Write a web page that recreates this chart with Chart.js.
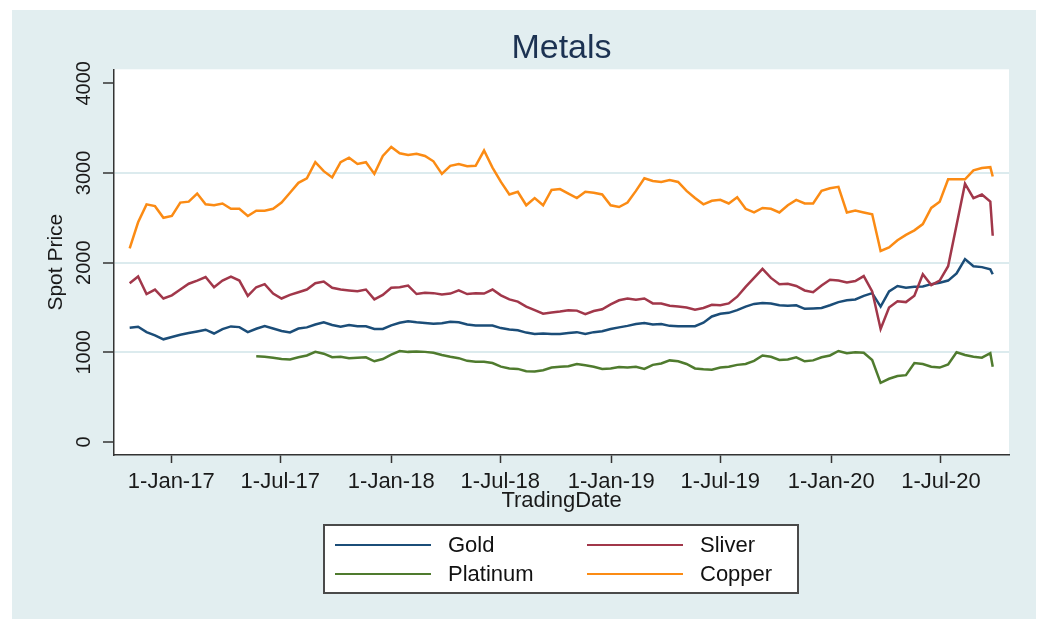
<!DOCTYPE html>
<html>
<head>
<meta charset="utf-8">
<title>Metals</title>
<script src="https://cdn.jsdelivr.net/npm/chart.js@4.4.1/dist/chart.umd.min.js"></script>
<style>
  html, body { margin: 0; padding: 0; background: #fff; }
  #wrap { width: 1041px; height: 619px; }
</style>
</head>
<body>
<div id="wrap"><canvas id="myChart" width="1041" height="619"></canvas></div>
<script>
// values, roughly every two weeks
const tradingDates = [
    '2016-10-24','2016-11-07','2016-11-21','2016-12-05','2016-12-19',
    '2017-01-02','2017-01-16','2017-01-30','2017-02-13','2017-02-27',
    '2017-03-13','2017-03-27','2017-04-10','2017-04-24','2017-05-08',
    '2017-05-22','2017-06-05','2017-06-19','2017-07-03','2017-07-17',
    '2017-07-31','2017-08-14','2017-08-28','2017-09-11','2017-09-25',
    '2017-10-09','2017-10-23','2017-11-06','2017-11-20','2017-12-04',
    '2017-12-18','2018-01-01','2018-01-15','2018-01-29','2018-02-12',
    '2018-02-26','2018-03-12','2018-03-26','2018-04-09','2018-04-23',
    '2018-05-07','2018-05-21','2018-06-04','2018-06-18','2018-07-02',
    '2018-07-16','2018-07-30','2018-08-13','2018-08-27','2018-09-10',
    '2018-09-24','2018-10-08','2018-10-22','2018-11-05','2018-11-19',
    '2018-12-03','2018-12-17','2018-12-31','2019-01-14','2019-01-28',
    '2019-02-11','2019-02-25','2019-03-11','2019-03-25','2019-04-08',
    '2019-04-22','2019-05-06','2019-05-20','2019-06-03','2019-06-17',
    '2019-07-01','2019-07-15','2019-07-29','2019-08-12','2019-08-26',
    '2019-09-09','2019-09-23','2019-10-07','2019-10-21','2019-11-04',
    '2019-11-18','2019-12-02','2019-12-16','2019-12-30','2020-01-13',
    '2020-01-27','2020-02-10','2020-02-24','2020-03-09','2020-03-23',
    '2020-04-06','2020-04-20','2020-05-04','2020-05-18','2020-06-01',
    '2020-06-15','2020-06-29','2020-07-13','2020-07-27','2020-08-10',
    '2020-08-24','2020-09-07','2020-09-21','2020-09-25'
];

const gold = [
    1275,1285,1226,1189,1145, 1170,1196,1215,1233,1252,
    1210,1259,1289,1281,1226, 1263,1292,1265,1237,1222,
    1265,1278,1310,1335,1305, 1285,1305,1290,1290,1260,
    1260,1300,1330,1345,1335, 1328,1320,1325,1340,1335,
    1310,1300,1300,1298,1270, 1255,1245,1220,1205,1210,
    1205,1205,1215,1225,1205, 1225,1235,1260,1278,1295,
    1315,1328,1310,1315,1295, 1292,1290,1292,1330,1400,
    1430,1440,1470,1510,1540, 1550,1545,1525,1520,1525,
    1485,1490,1495,1525,1560, 1580,1590,1630,1660,1510,
    1680,1740,1720,1730,1735, 1760,1775,1800,1880,2040,
    1960,1950,1925,1870
];

const sliver = [
    1770,1845,1650,1700,1600, 1635,1700,1765,1800,1840,
    1726,1800,1845,1800,1630, 1726,1760,1655,1600,1640,
    1670,1700,1770,1790,1720, 1700,1690,1680,1700,1590,
    1640,1720,1725,1745,1650, 1665,1660,1645,1655,1690,
    1650,1660,1655,1700,1635, 1590,1565,1510,1470,1430,
    1445,1455,1470,1465,1425, 1460,1480,1535,1580,1600,
    1585,1600,1545,1545,1520, 1510,1500,1475,1495,1530,
    1525,1545,1620,1730,1830, 1930,1830,1760,1765,1740,
    1690,1670,1745,1810,1800, 1780,1795,1850,1680,1260,
    1500,1570,1560,1630,1870, 1750,1800,1960,2420,2880,
    2720,2760,2680,2300
];

// platinum only starts in May 2017
const platinum = [
    null,null,null,null,null, null,null,null,null,null,
    null,null,null,null,null, 955,950,940,925,920,
    945,965,1005,985,945, 950,935,940,945,900,
    925,975,1015,1005,1010, 1005,995,970,950,935,
    905,895,895,880,840, 820,815,790,785,800,
    830,840,845,870,855, 840,815,820,835,830,
    840,815,860,875,910, 900,870,820,810,805,
    830,840,860,870,905, 965,950,915,920,945,
    900,910,945,965,1015, 990,1000,995,915,660,
    705,735,745,880,870, 840,830,865,1000,970,
    950,940,990,840
];

const copper = [
    2160,2450,2650,2630,2500, 2520,2670,2680,2770,2650,
    2640,2660,2600,2600,2520, 2580,2580,2600,2670,2780,
    2890,2940,3120,3020,2950, 3120,3170,3100,3120,2990,
    3190,3290,3220,3200,3215, 3190,3130,2990,3080,3100,
    3075,3080,3250,3060,2900, 2760,2790,2640,2720,2640,
    2810,2820,2770,2720,2790, 2780,2760,2640,2620,2670,
    2800,2940,2910,2900,2920, 2900,2800,2720,2650,2690,
    2700,2660,2730,2600,2560, 2610,2600,2560,2640,2700,
    2660,2660,2800,2830,2845, 2560,2580,2560,2540,2130,
    2170,2250,2310,2360,2430, 2610,2680,2930,2930,2930,
    3030,3055,3065,2960
];

const tickDates = ['2017-01-01','2017-07-01','2018-01-01','2018-07-01','2019-01-01','2019-07-01','2020-01-01','2020-07-01'];
const tickLabels = ['1-Jan-17','1-Jul-17','1-Jan-18','1-Jul-18','1-Jan-19','1-Jul-19','1-Jan-20','1-Jul-20'];
const yTicks = [0, 1000, 2000, 3000, 4000];

const FONT = "'Liberation Sans', Arial, sans-serif";

function toTime(s) {
    const p = s.split('-');
    return Date.UTC(+p[0], +p[1] - 1, +p[2]);
}

function toPoints(values) {
    const pts = [];
    values.forEach((v, i) => {
        if (v !== null) pts.push({ x: toTime(tradingDates[i]), y: v });
    });
    return pts;
}

const ctx = document.getElementById('myChart').getContext('2d');

const data = {
    datasets: [
        { label: 'Gold', data: toPoints(gold), borderColor: '#1b4d78', order: 3 },
        { label: 'Sliver', data: toPoints(sliver), borderColor: '#a1374a', order: 2 },
        { label: 'Platinum', data: toPoints(platinum), borderColor: '#4f7b2e', order: 1 },
        { label: 'Copper', data: toPoints(copper), borderColor: '#fb8b14', order: 0 }
    ]
};

// panel and plot region backgrounds
const backgroundPlugin = {
    id: 'panels',
    beforeDraw(chart) {
        const c = chart.ctx;
        const a = chart.chartArea;
        c.save();
        c.fillStyle = '#ffffff';
        c.fillRect(0, 0, chart.width, chart.height);
        c.fillStyle = '#e2eef0';
        c.fillRect(12, 10, 1024, 609);
        c.fillStyle = '#ffffff';
        c.fillRect(a.left, a.top, a.right - a.left, a.bottom - a.top);
        c.restore();
    }
};

// two-column boxed legend under the plot
const boxLegend = {
    id: 'boxLegend',
    afterDraw(chart) {
        const c = chart.ctx;
        c.save();
        c.fillStyle = '#ffffff';
        c.fillRect(324, 525, 474, 68);
        c.strokeStyle = '#4a4a4a';
        c.lineWidth = 2;
        c.strokeRect(324, 525, 474, 68);
        const slots = [[335, 545], [587, 545], [335, 574], [587, 574]];
        chart.data.datasets.forEach((ds, i) => {
            const [x, y] = slots[i];
            c.strokeStyle = ds.borderColor;
            c.lineWidth = 2;
            c.beginPath();
            c.moveTo(x, y);
            c.lineTo(x + 96, y);
            c.stroke();
            c.fillStyle = '#111111';
            c.font = '22px ' + FONT;
            c.textBaseline = 'middle';
            c.textAlign = 'left';
            c.fillText(ds.label, x + 113, y + 1);
        });
        c.restore();
    }
};

const config = {
    type: 'line',
    data: data,
    options: {
        responsive: false,
        animation: false,
        devicePixelRatio: 1,
        layout: { padding: { top: 0, left: 0, right: 32, bottom: 0 } },
        elements: {
            line: { borderWidth: 2.5, tension: 0 },
            point: { radius: 0 }
        },
        scales: {
            x: {
                type: 'linear',
                min: toTime('2016-09-28'),
                max: toTime('2020-10-22'),
                afterBuildTicks: (s) => { s.ticks = tickDates.map(d => ({ value: toTime(d) })); },
                afterFit: (s) => { s.height = 164; },
                ticks: {
                    autoSkip: false,
                    maxRotation: 0,
                    padding: 6,
                    color: '#1a1a1a',
                    font: { family: FONT, size: 22 },
                    callback: (value, index) => tickLabels[index]
                },
                grid: { drawOnChartArea: false, tickLength: 8, tickColor: '#333333', tickWidth: 1.5 },
                border: { color: '#333333', width: 1.5 },
                title: {
                    display: true,
                    text: 'TradingDate',
                    color: '#1a1a1a',
                    font: { family: FONT, size: 22 },
                    padding: { top: 0, bottom: 105 }
                }
            },
            y: {
                min: -145,
                max: 4156,
                afterBuildTicks: (s) => { s.ticks = yTicks.map(v => ({ value: v })); },
                afterFit: (s) => { s.width = 114; },
                ticks: {
                    minRotation: 90,
                    maxRotation: 90,
                    crossAlign: 'center',
                    padding: -4,
                    color: '#1a1a1a',
                    font: { family: FONT, size: 20 },
                    callback: (value) => String(value)
                },
                grid: {
                    color: (c) => (c.tick && c.tick.value > 0 && c.tick.value < 4000) ? '#dcebee' : 'rgba(0,0,0,0)',
                    lineWidth: 2,
                    tickLength: 11,
                    tickColor: '#333333',
                    tickWidth: 1.5
                },
                border: { color: '#333333', width: 1.5 },
                title: {
                    display: true,
                    text: 'Spot Price',
                    color: '#1a1a1a',
                    font: { family: FONT, size: 21 },
                    padding: { top: 44, bottom: 0 }
                }
            }
        },
        plugins: {
            legend: { display: false },
            tooltip: { enabled: false },
            title: {
                display: true,
                text: 'Metals',
                fullSize: false,
                color: '#1c3252',
                font: { family: FONT, size: 34, weight: 'normal' },
                padding: { top: 28.5, bottom: 0 }
            }
        }
    },
    plugins: [backgroundPlugin, boxLegend]
};

const myChart = new Chart(ctx, config);
</script>
</body>
</html>
